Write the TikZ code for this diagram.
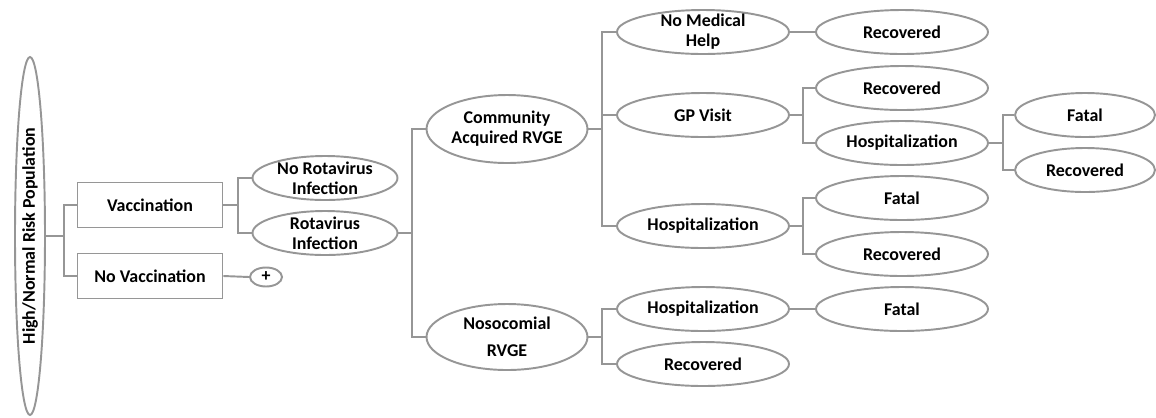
\documentclass[tikz,border=0pt]{standalone}
\usepackage{fontspec}
\setmainfont{Carlito}
\usepackage{graphicx}
\usetikzlibrary{shapes.geometric}
\definecolor{treegray}{RGB}{150,150,150}

\begin{document}
\begin{tikzpicture}[
		x=0.02cm, y=-0.02cm,% one unit = one pixel of the sketch
		font=\fontsize{10.2}{11.5}\selectfont\bfseries,
		E/.style = {ellipse, draw=treegray, line width=1.1pt,% outcome ellipses
			inner xsep=0pt, inner ysep=-3pt, align=center,
			minimum width=#1, minimum height=0.88cm},
		E/.default=3.44cm,
		R/.style = {rectangle, draw=treegray, line width=1.1pt,% strategy boxes
			minimum width=2.9cm, minimum height=0.9cm},
		L/.style = {draw=treegray, line width=1.1pt},
		]
		\useasboundingbox (0,0) rectangle (1156,417);
		% root and strategies
		\node[E=0.6cm, minimum height=7.16cm] (root) at (30,236) {\rotatebox{90}{High/Normal Risk Population}};
		\node[R] (vacc) at (150,205) {Vaccination};
		\node[R] (novacc) at (150,276) {No Vaccination};
		\node[E=0.64cm, minimum height=0.38cm, inner ysep=0pt] (plus) at (266,277) {+};
		% infection
		\node[E=2.9cm] (norota) at (325,178) {No Rotavirus\\Infection};
		\node[E=2.9cm] (rota) at (325,233) {Rotavirus\\Infection};
		\node[E=3.22cm, minimum height=1.36cm] (comm) at (507,129) {Community\\Acquired RVGE};
		\node[E=3.22cm, minimum height=1.32cm, font=\fontsize{10.2}{15.5}\selectfont\bfseries] (noso) at (507,337) {Nosocomial\\RVGE};
		% community acquired
		\node[E] (nomed) at (703,32) {No Medical\\Help};
		\node[E] (gp) at (703,115) {GP Visit};
		\node[E] (hospc) at (703,226) {Hospitalization};
		\node[E] (rec1) at (902,32) {Recovered};
		\node[E] (rec2) at (902,88) {Recovered};
		\node[E] (hospg) at (902,143) {Hospitalization};
		\node[E=2.8cm] (fatalg) at (1085,115) {Fatal};
		\node[E=2.8cm] (recg) at (1085,170) {Recovered};
		\node[E] (fatalh) at (902,198) {Fatal};
		\node[E] (rech) at (902,254) {Recovered};
		% nosocomial
		\node[E] (hospn) at (703,309) {Hospitalization};
		\node[E] (recn) at (703,364) {Recovered};
		\node[E] (fataln) at (902,309) {Fatal};
		% branches
		\foreach \c in {vacc,novacc}
		\draw[L] (root.east) -- ++(18,0) |- (\c.west);
		\foreach \c in {norota,rota}
		\draw[L] (vacc.east) -- ++(15,0) |- (\c.west);
		\draw[L] (novacc.east) -- (plus.west);
		\foreach \c in {comm,noso}
		\draw[L] (rota.east) -- ++(14,0) |- (\c.west);
		\foreach \c in {nomed,gp,hospc}
		\draw[L] (comm.east) -- ++(14,0) |- (\c.west);
		\foreach \c in {hospn,recn}
		\draw[L] (noso.east) -- ++(14,0) |- (\c.west);
		\draw[L] (nomed.east) -- (rec1.west);
		\foreach \c in {rec2,hospg}
		\draw[L] (gp.east) -- ++(13,0) |- (\c.west);
		\foreach \c in {fatalh,rech}
		\draw[L] (hospc.east) -- ++(13,0) |- (\c.west);
		\foreach \c in {fatalg,recg}
		\draw[L] (hospg.east) -- ++(14,0) |- (\c.west);
		\draw[L] (hospn.east) -- (fataln.west);
	\end{tikzpicture}
\end{document}
